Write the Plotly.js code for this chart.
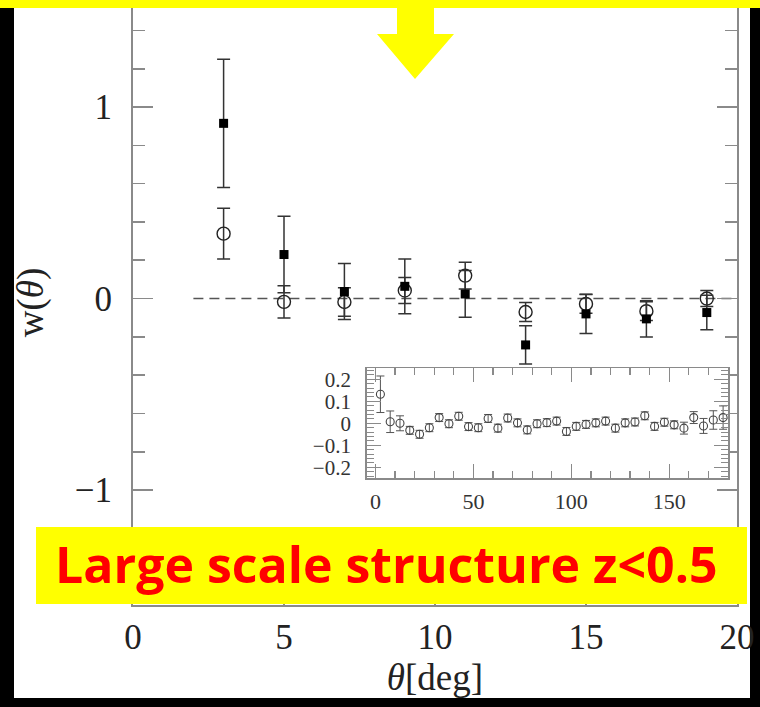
<!DOCTYPE html>
<html>
<head>
<meta charset="utf-8">
<script src="https://cdn.plot.ly/plotly-3.0.1.min.js"></script>
<style>html,body{margin:0;padding:0;background:#000;}</style>
</head>
<body>
<div id="chart" style="width:760px;height:707px;"></div>
<script>
// ---- main panel data ----
var thetaMain = [3, 5, 7, 9, 11, 13, 15, 17, 19];
var wSquares = [0.915, 0.23, 0.037, 0.064, 0.024, -0.242, -0.08, -0.106, -0.073];
var errSquares = [0.335, 0.2, 0.146, 0.143, 0.122, 0.1, 0.103, 0.094, 0.09];
var wCircles = [0.339, -0.017, -0.018, 0.042, 0.12, -0.07, -0.028, -0.066, 0.0];
var errCircles = [0.133, 0.084, 0.074, 0.068, 0.07, 0.05, 0.049, 0.049, 0.042];
var refX = [2, 20];
var refY = [0, 0];

// ---- inset data ----
var thetaInset = [2.5, 7.5, 12.5, 17.5, 22.5, 27.5, 32.5, 37.5, 42.5, 47.5, 52.5, 57.5,
  62.5, 67.5, 72.5, 77.5, 82.5, 87.5, 92.5, 97.5, 102.5, 107.5, 112.5, 117.5,
  122.5, 127.5, 132.5, 137.5, 142.5, 147.5, 152.5, 157.5, 162.5, 167.5, 172.5, 177.5];
var wInset = [0.132, 0.007, 0.0, -0.032, -0.05, -0.02, 0.026, -0.002, 0.032, -0.015, -0.02, 0.022,
  -0.022, 0.024, 0.002, -0.03, -0.002, 0.003, 0.01, -0.037, -0.014, -0.005, 0.002, 0.01,
  -0.022, 0.002, 0.006, 0.034, -0.014, 0.005, -0.007, -0.022, 0.026, -0.012, 0.015, 0.026];
var errInset = [0.083, 0.049, 0.034, 0.018, 0.018, 0.018, 0.018, 0.018, 0.018, 0.018, 0.018, 0.018,
  0.018, 0.018, 0.018, 0.018, 0.018, 0.018, 0.018, 0.018, 0.018, 0.018, 0.018, 0.018,
  0.018, 0.018, 0.018, 0.018, 0.018, 0.018, 0.018, 0.027, 0.027, 0.034, 0.042, 0.053];

var mainTicksX = [0, 5, 10, 15, 20];
var bannerText = 'Large scale structure z<0.5';

// page pixel -> paper helpers (plot area: x 133..737, y 0..605)
var L = 133, R = 737, T = 0, B = 605;
function px(x) { return (x - L) / (R - L); }
function py(y) { return (B - y) / (B - T); }

var serif = 'Liberation Serif, DejaVu Serif, serif';
var axisGray = '#8a8a8a';

var traces = [
  {
    x: refX, y: refY, mode: 'lines', xaxis: 'x', yaxis: 'y',
    line: { color: '#555', width: 1.6, dash: '10px,6px' },
    hoverinfo: 'skip', showlegend: false
  },
  {
    x: thetaMain, y: wCircles, mode: 'markers', xaxis: 'x', yaxis: 'y',
    marker: { symbol: 'circle-open', size: 13, color: '#222', line: { width: 1.4, color: '#222' } },
    error_y: { type: 'data', array: errCircles, visible: true, color: '#333', thickness: 1.5, width: 6.5 },
    showlegend: false
  },
  {
    x: thetaMain, y: wSquares, mode: 'markers', xaxis: 'x', yaxis: 'y',
    marker: { symbol: 'square', size: 9, color: '#000' },
    error_y: { type: 'data', array: errSquares, visible: true, color: '#333', thickness: 1.5, width: 6.5 },
    showlegend: false
  },
  {
    x: thetaInset, y: wInset, mode: 'markers', xaxis: 'x3', yaxis: 'y3',
    marker: { symbol: 'circle-open', size: 8, color: '#444', line: { width: 1.1, color: '#444' } },
    error_y: { type: 'data', array: errInset, visible: true, color: '#555', thickness: 1, width: 4 },
    showlegend: false
  }
];

var layout = {
  width: 760, height: 707,
  margin: { l: L, r: 760 - R, t: T, b: 707 - B, pad: 0 },
  paper_bgcolor: '#000',
  plot_bgcolor: '#fff',
  showlegend: false,
  xaxis: {
    domain: [0, 1], anchor: 'y', range: [0, 20],
    tickvals: mainTicksX,
    showline: true, linecolor: axisGray, linewidth: 2,
    ticks: 'inside', ticklen: 20, tickwidth: 1.6, tickcolor: axisGray,
    showgrid: false, zeroline: false,
    tickfont: { family: serif, size: 35, color: '#222' },
    ticklabelstandoff: 0,
    title: { text: '<i>θ</i>[deg]', font: { family: serif, size: 37, color: '#222' }, standoff: 0 }
  },
  xaxis2: {
    overlaying: 'x', side: 'top', anchor: 'y', range: [0, 20],
    tickvals: mainTicksX, showticklabels: false,
    ticks: 'inside', ticklen: 14, tickwidth: 1.6, tickcolor: axisGray,
    showline: false, showgrid: false, zeroline: false
  },
  yaxis: {
    domain: [0, 1], anchor: 'x', range: [-1.6, 1.559],
    tick0: 0, dtick: 1,
    showline: true, linecolor: axisGray, linewidth: 2, mirror: 'ticks',
    ticks: 'inside', ticklen: 20, tickwidth: 1.6, tickcolor: axisGray,
    minor: { dtick: 0.2, tick0: 0, ticks: 'inside', ticklen: 12, tickwidth: 1.6, tickcolor: axisGray },
    showgrid: false, zeroline: false,
    tickfont: { family: serif, size: 35, color: '#222' },
    ticklabelstandoff: 12,
    title: { text: 'w(<i>θ</i>)', font: { family: serif, size: 37, color: '#222' }, standoff: 20 }
  },
  xaxis3: {
    domain: [px(366.7), px(728)], anchor: 'y3', range: [-4.5, 180],
    tick0: 0, dtick: 50,
    showline: true, linecolor: axisGray, linewidth: 1.6, mirror: 'ticks',
    ticks: 'inside', ticklen: 14, tickwidth: 1.3, tickcolor: axisGray,
    minor: { dtick: 10, tick0: 0, ticks: 'inside', ticklen: 7, tickwidth: 1.3, tickcolor: axisGray },
    showgrid: false, zeroline: false,
    tickfont: { family: serif, size: 22, color: '#333' },
    ticklabelstandoff: 3
  },
  yaxis3: {
    domain: [py(478.3), py(368.3)], anchor: 'x3', range: [-0.25, 0.25],
    tick0: 0, dtick: 0.1,
    showline: true, linecolor: axisGray, linewidth: 1.6, mirror: 'ticks',
    ticks: 'inside', ticklen: 14, tickwidth: 1.3, tickcolor: axisGray,
    minor: { dtick: 0.02, tick0: 0, ticks: 'inside', ticklen: 7, tickwidth: 1.1, tickcolor: axisGray },
    showgrid: false, zeroline: false,
    tickfont: { family: serif, size: 21, color: '#333' },
    ticklabelstandoff: 10
  },
  shapes: [
    { type: 'rect', xref: 'paper', yref: 'paper', layer: 'below',
      x0: px(14), x1: px(750), y0: py(698), y1: py(0),
      fillcolor: '#fff', line: { width: 0 } },
    { type: 'rect', xref: 'paper', yref: 'paper', layer: 'above',
      x0: px(0), x1: px(760), y0: py(8), y1: py(0),
      fillcolor: '#ffff00', line: { width: 0 } },
    { type: 'path', xref: 'paper', yref: 'paper', layer: 'above',
      path: 'M ' + px(397) + ' ' + py(0) + ' L ' + px(397) + ' ' + py(34) +
            ' L ' + px(377) + ' ' + py(34) + ' L ' + px(415) + ' ' + py(79) +
            ' L ' + px(454) + ' ' + py(34) + ' L ' + px(434) + ' ' + py(34) +
            ' L ' + px(434) + ' ' + py(0) + ' Z',
      fillcolor: '#ffff00', line: { width: 0 } },
    { type: 'rect', xref: 'paper', yref: 'paper', layer: 'above',
      x0: px(36), x1: px(747), y0: py(604), y1: py(527),
      fillcolor: '#ffff00', line: { width: 0 } }
  ],
  annotations: [
    { xref: 'paper', yref: 'paper', x: px(386), y: py(563.5),
      xanchor: 'center', yanchor: 'middle', showarrow: false,
      text: bannerText,
      font: { family: 'Comic Sans MS, Open Sans, sans-serif', size: 50, color: '#ff0000', weight: 'bold' } }
  ]
};

Plotly.newPlot('chart', traces, layout, { staticPlot: true, displayModeBar: false });
</script>
</body>
</html>
